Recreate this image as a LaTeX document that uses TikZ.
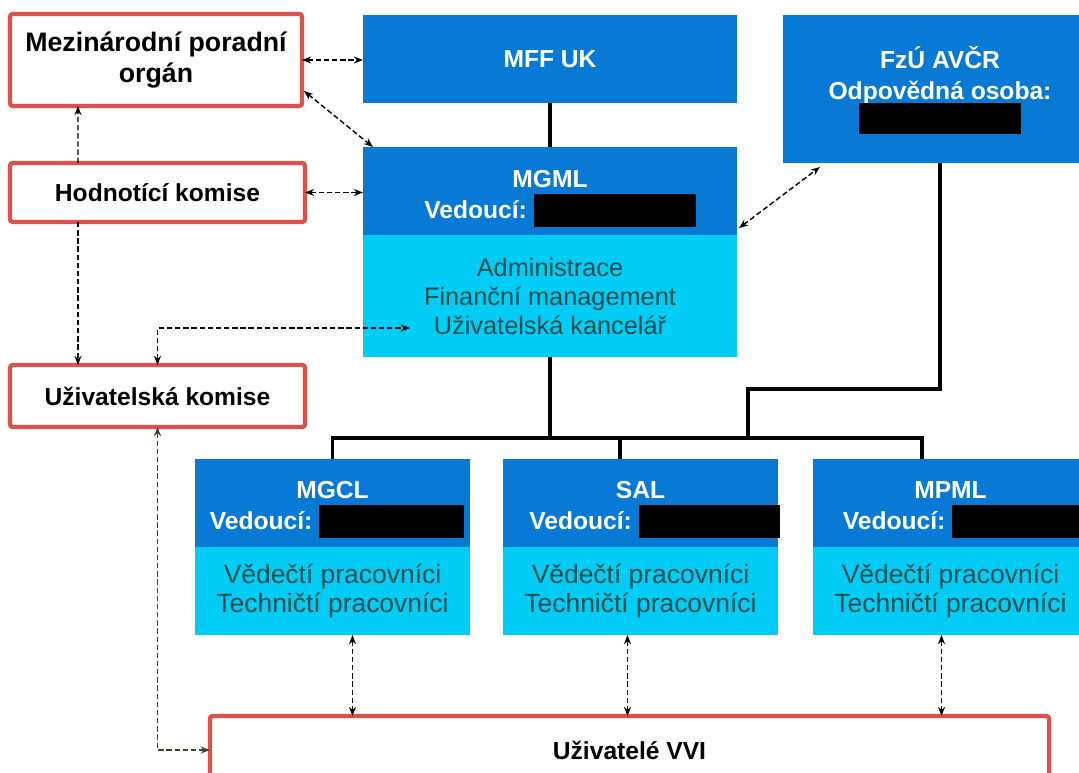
\documentclass[tikz,border=0pt]{standalone}
\usepackage{fontspec}
\setmainfont{Liberation Sans}
\usetikzlibrary{positioning, calc, arrows.meta}

\definecolor{headblue}{RGB}{8,122,214}
\definecolor{bodyblue}{RGB}{0,204,245}
\definecolor{bodytext}{RGB}{20,78,78}
\definecolor{boxred}{RGB}{222,80,74}
\definecolor{linkgreen}{RGB}{52,74,40}

\newcommand\redact[1]{\textcolor{black}{\rule[-0.22cm]{#1}{0.83cm}}}

\begin{document}
\begin{tikzpicture}[
    x=0.025cm, y=-0.025cm,
    every node/.style={inner sep=0pt, outer sep=0pt, align=center},
    redbox/.style={draw=boxred, line width=3pt, rounded corners=2pt, fill=white, text=black, font=\fontsize{17.5}{22}\selectfont\bfseries},
    headbox/.style={fill=headblue, text=white, minimum width=6.875cm, minimum height=2.2cm, font=\fontsize{17.5}{22}\selectfont\bfseries},
    bodybox/.style={fill=bodyblue, text=bodytext, minimum width=6.875cm, minimum height=2.2cm, font=\fontsize{18.8}{20.6}\selectfont},
    tree/.style={line width=2.2pt},
    link/.style={line width=1pt, dash pattern=on 3.8pt off 2pt, >={Stealth[length=6.5pt,width=5pt]}}
]
\useasboundingbox (0,0) rectangle (1079,773);
\clip (0,0) rectangle (1079,773);

% advisory bodies
\node[redbox, minimum width=7.3cm, minimum height=2.3cm, font=\fontsize{19}{22}\selectfont\bfseries] (mezin) at (156,60) {Mezinárodní poradní\\orgán};
\node[redbox, minimum width=7.375cm, minimum height=1.475cm] (hodn) at (157.5,192.5) {Hodnotící komise};
\node[redbox, minimum width=7.375cm, minimum height=1.55cm] (uzkom) at (157.5,396) {Uživatelská komise};
\node[redbox, minimum width=20.975cm, minimum height=1.7cm] (uzvvi) at (629.5,750) {Uživatelé VVI};

% institutions
\node[headbox, minimum width=9.35cm] (mff) at (550,59) {MFF UK};
\node[headbox, minimum width=7.85cm, minimum height=3.7cm] (fzu) at (940,89) {\rule{0pt}{17.5pt}FzÚ AVČR\\Odpovědná osoba:\\[-2.7pt]\textcolor{black}{\rule{4.05cm}{0.775cm}}};
\node[headbox, minimum width=9.35cm] (mgmlhead) at (550,191) {\rule{0pt}{23pt}MGML\\\makebox[0pt]{\hspace*{0.5cm}Vedoucí:\ \redact{4.05cm}}};
\node[bodybox, minimum width=9.35cm, minimum height=3.05cm, below=0pt of mgmlhead, font=\fontsize{18}{20.6}\selectfont] (mgmlbody) {Administrace\\Finanční management\\Uživatelská kancelář};

% laboratories
\node[headbox] (mgclhead) at (332.5,503) {\rule{0pt}{22pt}MGCL\\\makebox[0pt]{\hspace*{0.225cm}Vedoucí:\ \redact{3.625cm}}};
\node[bodybox, below=0pt of mgclhead] (mgclbody) {Vědečtí pracovníci\\Techničtí pracovníci};
\node[headbox] (salhead) at (640.5,503) {\rule{0pt}{22pt}SAL\\\makebox[0pt]{\hspace*{0.7cm}Vedoucí:\ \redact{3.525cm}}};
\node[bodybox, below=0pt of salhead] (salbody) {Vědečtí pracovníci\\Techničtí pracovníci};
\node[headbox] (mpmlhead) at (950.5,503) {\rule{0pt}{22pt}MPML\\\makebox[0pt]{\hspace*{0.975cm}Vedoucí:\ \redact{3.625cm}}};
\node[bodybox, below=0pt of mpmlhead] (mpmlbody) {Vědečtí pracovníci\\Techničtí pracovníci};

% tree
\coordinate (bus) at (550,438);
\coordinate (salin) at (620,459);
\coordinate (mpmlin) at (922,459);
\coordinate (fzubus) at (748,438);
\draw[tree] (mff.south) -- (mgmlhead.north);
\draw[tree] (mgmlbody.south) -- (bus);
\draw[tree] (mgclhead.north) |- (bus) -| (mpmlin);
\draw[tree] (salin |- bus) -- (salin);
\draw[tree] (fzu.south) -- ++(0,226) -| (fzubus);

% links
\draw[link, <->] (mezin.east) -- (mezin.east -| mff.west);
\draw[link, <->] ($(mezin.south east)+(2,-15)$) -- ($(mgmlhead.north west)+(10,0)$);
\draw[link, <->] (hodn.east) -- (hodn.east -| mgmlhead.west);
\draw[link, ->] ($(hodn.north west)+(68,0)$) -- ($(mezin.south west)+(68,0)$);
\draw[link, ->] ($(hodn.south west)+(68,0)$) -- ($(uzkom.north west)+(68,0)$);
\draw[link, <->] (uzkom.north) |- ($(mgmlbody.west)+(47,32)$);
\draw[link, <->] ($(mgmlhead.south east)+(2,-7)$) -- ($(fzu.south west)+(37,4)$);
\draw[link, <->, draw=linkgreen] (uzkom.south) |- (uzvvi.west);
\draw[link, <->] ([xshift=0.5cm]mgclbody.south) -- ([xshift=0.5cm]mgclbody.south |- uzvvi.north);
\draw[link, <->] ([xshift=-0.325cm]salbody.south) -- ([xshift=-0.325cm]salbody.south |- uzvvi.north);
\draw[link, <->] ([xshift=-0.225cm]mpmlbody.south) -- ([xshift=-0.225cm]mpmlbody.south |- uzvvi.north);

\end{tikzpicture}
\end{document}
